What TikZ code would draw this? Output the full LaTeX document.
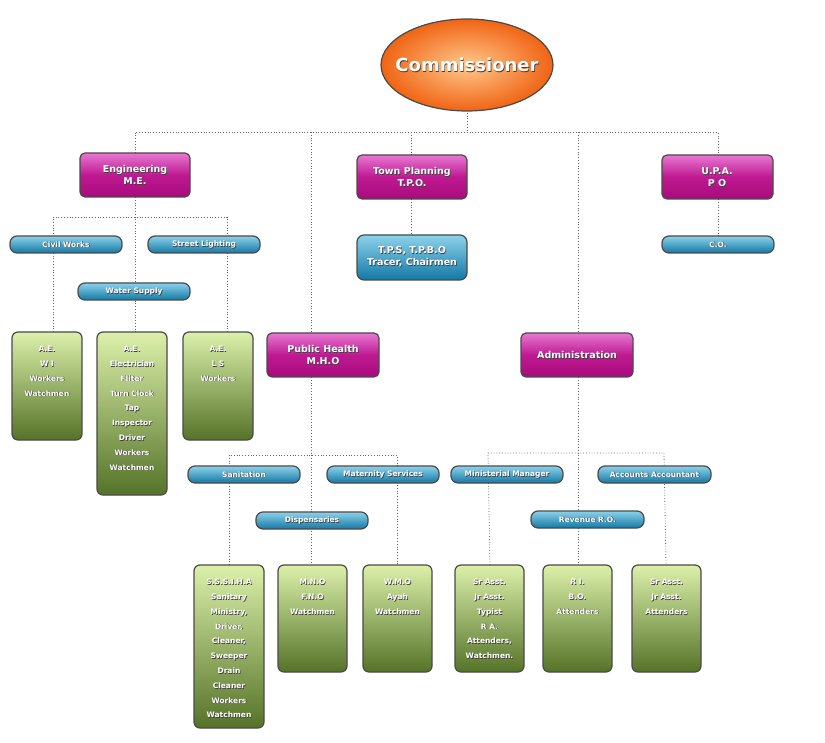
\documentclass[tikz,border=0pt]{standalone}
\usepackage{fontspec}
\setmainfont{DejaVu Sans}
\usetikzlibrary{shapes.geometric}
\definecolor{bord}{HTML}{4A4A4A}
\tikzset{
 box/.style={draw=bord,line width=1.2pt,rounded corners=5pt,inner sep=0pt},
 mag/.style={box,top color={rgb,255:red,232;green,120;blue,210},bottom color={rgb,255:red,170;green,10;blue,125},middle color={rgb,255:red,190;green,25;blue,145}},
 pill/.style={box,rounded corners=7pt,top color={rgb,255:red,140;green,210;blue,235},bottom color={rgb,255:red,20;green,120;blue,165}},
 grn/.style={box,rounded corners=6pt,top color={rgb,255:red,220;green,240;blue,170},bottom color={rgb,255:red,85;green,115;blue,40}},
 conn/.style={draw=gray!80!black,line width=0.8pt,dotted},
 txt/.style={font=\bfseries,align=center,text=white,inner sep=0pt},
 shd/.style={txt,text=black!75}
}
\newcommand{\bx}[8]{%
 \path[#2] ({#3},{#4}) rectangle ({#5},{#6});
 \node[box,draw=none,fill=none,minimum width={#5-#3},minimum height={#6-#4}] (#1) at ({(#3+#5)/2},{(#4+#6)/2}) {};
}
\newcommand{\tx}[5]{%
 \node[shd,font=\bfseries#3,anchor=#5] at ({#1+0.7},{#2+0.7}) {#4};
 \node[txt,font=\bfseries#3,anchor=#5] at ({#1},{#2}) {#4};
}
\begin{document}
\begin{tikzpicture}[x=1pt,y=-1pt]
\useasboundingbox[fill=white] (0,0) rectangle (825,743);
\coordinate (top) at (467,132);
\coordinate (eL) at (135,132);
\coordinate (eR) at (718,132);
\coordinate (e2L) at (53,217);
\coordinate (e2R) at (227,217);
\coordinate (pL) at (229,455);
\coordinate (pR) at (397,455);
\coordinate (aL) at (488,453);
\coordinate (aR) at (664,453);
\draw[conn] (467,110) -- (top);
\draw[conn] (135,153) -- (eL) -- (eR) -- (718,155);
\draw[conn] (311,132) -- (311,333);
\draw[conn] (411,132) -- (411,155);
\draw[conn] (578,132) -- (578,333);
\draw[conn] (135,197) -- (135,332);
\draw[conn] (53,332) -- (e2L) -- (e2R) -- (227,332);
\draw[conn] (411,199) -- (411,235);
\draw[conn] (718,199) -- (718,236);
\draw[conn] (311,377) -- (311,565);
\draw[conn] (229,565) -- (pL) -- (pR) -- (397,565);
\draw[conn] (578,377) -- (578,565);
\draw[conn] (490,565) -- (aL) -- (aR) -- (666,565);
\node[ellipse,draw=bord,line width=1.2pt,minimum width=172pt,minimum height=92pt,
  inner color={rgb,255:red,255;green,200;blue,140},outer color={rgb,255:red,240;green,100;blue,20}] (comm) at (467,65) {};
\tx{467}{65}{\fontsize{18}{20}\selectfont}{Commissioner}{center}
\bx{eng}{mag}{80}{153}{190}{197}{}{}
\tx{135}{175}{\fontsize{9.5}{12}\selectfont}{Engineering\\M.E.}{center}
\bx{tp}{mag}{357}{155}{467}{199}{}{}
\tx{412}{177}{\fontsize{9.5}{12}\selectfont}{Town Planning\\T.P.O.}{center}
\bx{upa}{mag}{662}{155}{773}{199}{}{}
\tx{717}{177}{\fontsize{9.5}{12}\selectfont}{U.P.A.\\P O}{center}
\bx{ph}{mag}{267}{333}{379}{377}{}{}
\tx{323}{355}{\fontsize{9.5}{12}\selectfont}{Public Health\\M.H.O}{center}
\bx{adm}{mag}{521}{333}{633}{377}{}{}
\tx{577}{355}{\fontsize{9.5}{12}\selectfont}{Administration}{center}
\bx{tps}{pill}{357}{235}{467}{280}{}{}
\tx{412}{257}{\fontsize{9.5}{12}\selectfont}{T.P.S, T.P.B.O\\Tracer, Chairmen}{center}
\newcommand{\pl}[5]{\bx{#1}{pill}{#2}{#3}{#4}{#3+17}{}{}\tx{(#2+#4)/2}{#3+8.5}{\fontsize{7.5}{9}\selectfont}{#5}{center}}
\pl{cw}{10}{236}{122}{Civil Works}
\pl{sl}{148}{236}{260}{Street Lighting}
\pl{ws}{78}{283}{190}{Water Supply}
\pl{co}{662}{236}{774}{C.O.}
\pl{san}{188}{466}{300}{Sanitation}
\pl{mat}{327}{466}{439}{Maternity Services}
\pl{dis}{256}{512}{368}{Dispensaries}
\pl{mm}{451}{466}{563}{Ministerial Manager}
\pl{acc}{598}{466}{711}{Accounts Accountant}
\pl{rev}{531}{511}{644}{Revenue R.O.}
\newcommand{\gr}[6]{\bx{#1}{grn}{#2}{#3}{#4}{#5}{}{}\tx{(#2+#4)/2}{#3+14}{\fontsize{7.5}{14.8}\selectfont}{#6}{north}}
\gr{g1}{12}{332}{82}{440}{A.E.\\W I\\Workers\\Watchmen}
\gr{g2}{97}{332}{167}{495}{A.E.\\Electrician\\Fliter\\Turn Clock\\Tap\\Inspector\\Driver\\Workers\\Watchmen}
\gr{g3}{183}{332}{253}{440}{A.E.\\L S\\Workers}
\gr{g4}{194}{565}{264}{728}{S.S.S.I.H.A\\Sanitary\\Ministry,\\Driver,\\Cleaner,\\Sweeper\\Drain\\Cleaner\\Workers\\Watchmen}
\gr{g5}{278}{565}{347}{672}{M.N.O\\F.N.O\\Watchmen}
\gr{g6}{363}{565}{432}{672}{W.M.O\\Ayah\\Watchmen}
\gr{g7}{455}{565}{524}{672}{Sr Asst.\\Jr Asst.\\Typist\\R A.\\Attenders,\\Watchmen.}
\gr{g8}{543}{565}{612}{672}{R I.\\B.O.\\Attenders}
\gr{g9}{632}{565}{701}{672}{Sr Asst.\\Jr Asst.\\Attenders}
\end{tikzpicture}
\end{document}
